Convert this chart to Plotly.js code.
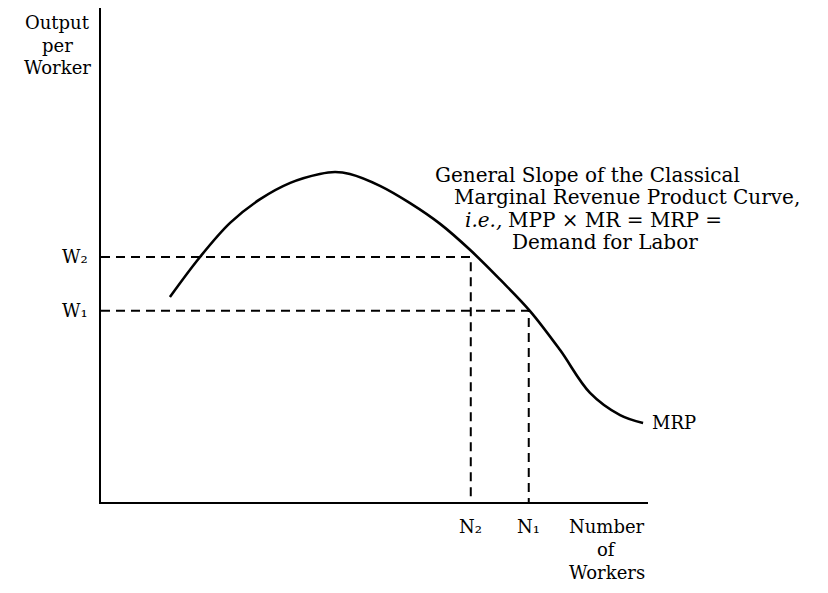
<!DOCTYPE html>
<html><head><meta charset="utf-8">
<script src="https://cdn.plot.ly/plotly-3.0.1.min.js"></script>
<style>body{margin:0;background:#fff}#chart{width:828px;height:593px}</style>
</head><body><div id="chart"></div>
<script>
// MRP curve (Number of Workers vs Output per Worker, arbitrary units)
const mrpX = [12.6, 18.1, 23.6, 29.1, 34.6, 40.0, 42.8, 45.5, 51.0, 56.5, 62.0, 67.5, 72.9, 78.4, 83.9, 89.4, 94.9, 99.1];
const mrpY = [41.5, 49.6, 56.5, 61.3, 64.6, 66.4, 66.8, 66.4, 64.0, 60.5, 56.3, 51.0, 45.1, 38.7, 30.8, 22.1, 17.6, 16.0];
const wageLevels = [49.6, 38.7];      // W2, W1
const workerLevels = [67.6, 78.2];    // N2, N1
const wageLabels = ["W₂", "W₁"];
const workerLabels = ["N₂", "N₁"];
const yTitleLines = ["Output", "per", "Worker"];
const xTitleLines = ["Number", "of", "Workers"];
const noteLines = ["General Slope of the Classical", "Marginal Revenue Product Curve,", "MPP × MR = MRP =", "Demand for Labor"];
const noteItalic = "i.e.,";

const FONT = "DejaVu Serif, Liberation Serif, serif";
const traces = [{
  x: mrpX, y: mrpY, mode: "lines", line: {color: "#000", width: 2.6, shape: "spline", smoothing: 1.0},
  hoverinfo: "skip"
}];
for (let i = 0; i < wageLevels.length; i++) {
  traces.push({
    x: [0, workerLevels[i], workerLevels[i]], y: [wageLevels[i], wageLevels[i], 0],
    mode: "lines", line: {color: "#000", width: 2, dash: "9px,6px"}, hoverinfo: "skip"
  });
}
const ann = [];
const mk = (o, size, style) => Object.assign({showarrow: false,
  font: {family: FONT, size: size || 18, color: "#000", style: style || "normal"}}, o);
for (let i = 0; i < yTitleLines.length; i++) {
  ann.push(mk({xref: "paper", yref: "paper", x: -0.08, y: 0.996 - i * 0.046, xanchor: "center", yanchor: "top", text: yTitleLines[i]}));
}
for (let i = 0; i < xTitleLines.length; i++) {
  ann.push(mk({xref: "paper", yref: "paper", x: 0.925, y: -0.025 - i * 0.046, xanchor: "center", yanchor: "top", text: xTitleLines[i]}));
}
for (let i = 0; i < wageLevels.length; i++) {
  ann.push(mk({xref: "paper", yref: "y", x: -0.02, y: wageLevels[i], xanchor: "right", yanchor: "middle", text: wageLabels[i]}));
  ann.push(mk({xref: "x", yref: "paper", x: workerLevels[i], y: -0.025, xanchor: "center", yanchor: "top", text: workerLabels[i]}));
}
ann.push(mk({xref: "paper", yref: "y", x: 1.004, y: mrpY[mrpY.length - 1], xanchor: "left", yanchor: "middle", text: "MRP"}));
const noteX = [60.7, 64.2, 74.0, 74.8];
const noteY = [66.2, 61.7, 57.1, 52.6];
for (let i = 0; i < noteLines.length; i++) {
  ann.push(mk({xref: "x", yref: "y", x: noteX[i], y: noteY[i], xanchor: "left", yanchor: "middle", text: noteLines[i]}, 20));
}
ann.push(mk({xref: "x", yref: "y", x: 73.6, y: noteY[2], xanchor: "right", yanchor: "middle", text: noteItalic}, 20, "italic"));

const layout = {
  width: 828, height: 593,
  margin: {l: 101, r: 180, t: 8, b: 91},
  paper_bgcolor: "#fff", plot_bgcolor: "#fff",
  showlegend: false,
  xaxis: {range: [0, 100], showgrid: false, zeroline: false, showticklabels: false, ticks: "",
    showline: true, linecolor: "#000", linewidth: 2},
  yaxis: {range: [0, 100], showgrid: false, zeroline: false, showticklabels: false, ticks: "",
    showline: true, linecolor: "#000", linewidth: 2},
  annotations: ann
};
Plotly.newPlot("chart", traces, layout, {staticPlot: true});
</script>
</body></html>
